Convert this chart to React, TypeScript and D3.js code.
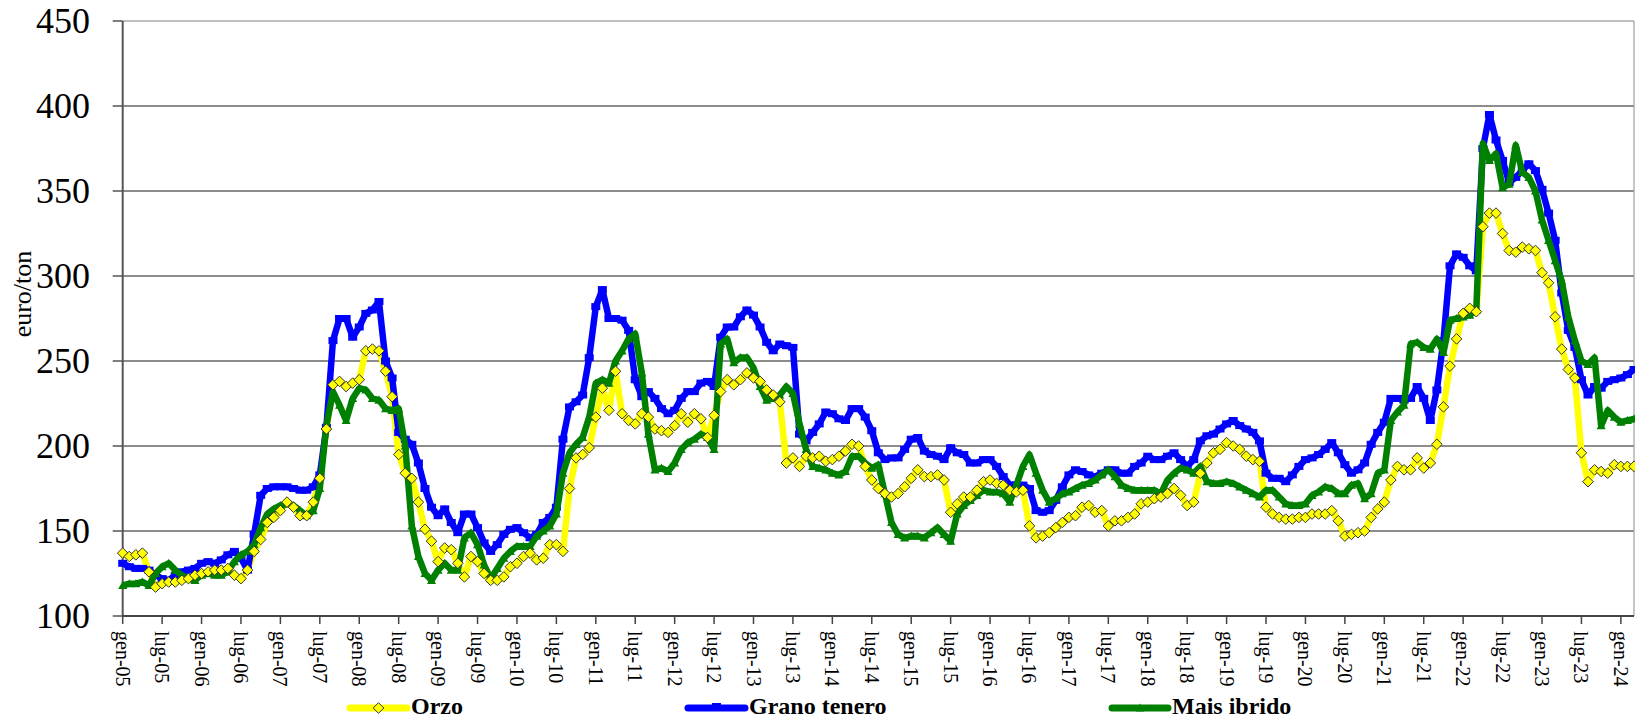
import React, { useEffect } from "react";
import * as d3 from "d3";

const width = 1635;
const height = 719;
const plotLeft = 122.7;
const plotRight = 1634;
const plotTop = 21;
const plotBottom = 616;

// etichette dell'asse x, ogni 6 mesi
const tickLabels = [
  "gen-05", "lug-05", "gen-06", "lug-06", "gen-07", "lug-07", "gen-08", "lug-08",
  "gen-09", "lug-09", "gen-10", "lug-10", "gen-11", "lug-11", "gen-12", "lug-12",
  "gen-13", "lug-13", "gen-14", "lug-14", "gen-15", "lug-15", "gen-16", "lug-16",
  "gen-17", "lug-17", "gen-18", "lug-18", "gen-19", "lug-19", "gen-20", "lug-20",
  "gen-21", "lug-21", "gen-22", "lug-22", "gen-23", "lug-23", "gen-24",
];

const yTicks = [100, 150, 200, 250, 300, 350, 400, 450];

// prezzi mensili, gen-05 .. mar-24 (euro/ton)
const orzo = [
  137, 135, 136, 137, 126, 117, 119, 120, 120, 121, 122, 124,
  125, 126, 127, 127, 128, 124, 122, 127, 138, 145, 155, 158,
  162, 167, 164, 159, 159, 167, 181, 210, 236, 238, 235, 237,
  239, 256, 257, 256, 244, 229, 195, 184, 181, 167, 151, 144,
  132, 140, 139, 131, 123, 135, 132, 125, 121, 121, 123, 129,
  131, 135, 137, 133, 134, 142, 142, 138, 175, 193, 195, 199,
  217, 234, 221, 244, 219, 215, 213, 219, 217, 210, 209, 208,
  212, 219, 214, 219, 216, 205, 218, 232, 239, 236, 239, 243,
  240, 238, 233, 230, 226, 190, 193, 188, 194, 193, 194, 191,
  192, 194, 197, 201, 200, 188, 180, 175, 172, 170, 172, 176,
  181, 186, 182, 182, 183, 180, 161, 166, 170, 170, 174, 179,
  180, 178, 177, 174, 173, 174, 153, 146, 147, 149, 152, 155,
  158, 159, 164, 165, 161, 162, 153, 156, 156, 158, 160, 166,
  167, 169, 170, 172, 175, 171, 165, 167, 184, 190, 196, 198,
  202, 200, 198, 194, 192, 191, 164, 160, 158, 157, 157, 158,
  158, 160, 160, 160, 162, 156, 147, 148, 149, 150, 158, 163,
  167, 180, 188, 186, 186, 193, 187, 190, 201, 223, 247, 263,
  278, 281, 279, 329, 337, 337, 325, 315, 314, 317, 316, 315,
  302, 296, 276, 257, 245, 240, 196, 179, 186, 185, 184, 189,
  188, 188, 188,
];

const granoTenero = [
  131, 129, 128, 128, 127, 124, 122, 121, 124, 126, 127, 128,
  131, 132, 131, 133, 136, 138, 134, 127, 148, 171, 175, 176,
  176, 176, 175, 174, 174, 176, 183, 211, 262, 275, 275, 264,
  270, 278, 280, 285, 250, 240, 208, 204, 201, 190, 175, 164,
  159, 163, 155, 149, 160, 160, 152, 143, 138, 142, 148, 151,
  152, 149, 146, 148, 155, 158, 164, 204, 223, 226, 230, 252,
  282, 292, 275, 275, 274, 268, 239, 229, 232, 228, 222, 219,
  221, 228, 232, 232, 237, 238, 235, 264, 270, 270, 276, 280,
  277, 270, 261, 256, 260, 259, 258, 207, 203, 208, 213, 220,
  219, 216, 215, 222, 222, 217, 209, 196, 192, 193, 193, 198,
  204, 205, 197, 195, 194, 192, 199, 196, 195, 190, 190, 192,
  192, 188, 182, 177, 177, 177, 175, 162, 161, 162, 168, 176,
  183, 186, 185, 183, 182, 184, 186, 186, 184, 184, 188, 190,
  194, 192, 192, 194, 196, 192, 188, 192, 203, 206, 207, 210,
  213, 215, 212, 210, 208, 203, 184, 181, 181, 179, 183, 188,
  192, 193, 195, 198, 202, 196, 189, 184, 186, 190, 201, 208,
  214, 228, 228, 227, 228, 235, 228, 215, 233, 262, 306, 313,
  311, 306, 303, 375, 395, 380, 368, 355, 358, 362, 366, 362,
  351, 337, 321, 290, 268, 258, 239, 230, 235, 234, 238, 239,
  240, 242, 245,
];

const maisIbrido = [
  118, 119, 119, 120, 118, 125, 129, 131, 127, 124, 122, 121,
  124, 125, 124, 124, 126, 132, 136, 138, 142, 152, 160, 163,
  165, 166, 165, 162, 159, 162, 175, 212, 232, 224, 215, 228,
  234, 233, 228, 227, 222, 221, 222, 200, 153, 135, 125, 121,
  127, 131, 127, 127, 146, 149, 142, 130, 122, 128, 134, 138,
  141, 141, 141, 147, 150, 153, 160, 184, 196, 201, 205, 217,
  237, 239, 237, 250, 256, 263, 266, 243, 207, 186, 187, 185,
  190, 198, 202, 204, 207, 205, 198, 260, 263, 249, 252, 252,
  246, 235, 227, 228, 230, 235, 231, 213, 198, 188, 187, 186,
  184, 183, 185, 194, 194, 190, 187, 189, 172, 155, 148, 146,
  147, 147, 146, 149, 152, 148, 144, 160, 165, 168, 171, 174,
  173, 173, 172, 167, 177, 188, 195, 184, 174, 167, 169, 172,
  173, 175, 177, 178, 180, 183, 186, 182, 177, 175, 174, 174,
  174, 174, 172, 180, 184, 187, 186, 184, 188, 179, 178, 178,
  179, 178, 176, 174, 172, 170, 174, 174, 170, 166, 165, 165,
  166, 171, 173, 176, 175, 172, 172, 177, 178, 169, 172, 184,
  186, 215, 220, 224, 260, 261, 258, 257, 263, 255, 274, 275,
  276, 277, 280, 378, 368, 372, 352, 354, 377, 361, 358, 350,
  333, 321, 309, 297, 276, 262, 250, 248, 252, 212, 221, 217,
  214, 215, 216,
];

const serif = "'Liberation Serif', 'Times New Roman', Times, serif";
const yellow = "#FFFF00";
const blue = "#0000FF";
const green = "#008000";

export default function App() {
  useEffect(() => {
    document.body.style.margin = "0";
    document.body.style.overflow = "hidden";
  }, []);

  const x = d3.scaleLinear().domain([0, orzo.length - 1]).range([plotLeft, plotRight]);
  const y = d3.scaleLinear().domain([100, 450]).range([plotBottom, plotTop]);

  const line = d3
    .line<number>()
    .x((_, i) => x(i))
    .y((d) => y(d));

  const diamond = (cx: number, cy: number, r: number) =>
    `M${cx},${cy - r}L${cx + r},${cy}L${cx},${cy + r}L${cx - r},${cy}Z`;
  const triangle = (cx: number, cy: number, r: number) =>
    `M${cx},${cy - r}L${cx + r},${cy + r * 0.8}L${cx - r},${cy + r * 0.8}Z`;

  const legendY = 708;
  const legend = [
    { name: "Orzo", x0: 350, x1: 407, color: yellow, marker: "diamond" },
    { name: "Grano tenero", x0: 688, x1: 745, color: blue, marker: "dash" },
    { name: "Mais ibrido", x0: 1112, x1: 1168, color: green, marker: "triangle" },
  ];

  const txt = { fontFamily: serif };

  return (
    <svg
      width={width}
      height={height}
      style={{ position: "absolute", left: 0, top: 0, background: "#fff" }}
    >
      {/* griglia */}
      {yTicks.slice(1).map((t) => (
        <line
          key={"g" + t}
          x1={plotLeft}
          x2={plotRight}
          y1={y(t)}
          y2={y(t)}
          stroke={t === 450 ? "#808080" : "#1a1a1a"}
          strokeWidth={1.2}
        />
      ))}
      <line x1={plotRight} x2={plotRight} y1={plotTop} y2={plotBottom} stroke="#a0a0a0" strokeWidth={1.2} />

      {/* asse y */}
      <line x1={plotLeft} x2={plotLeft} y1={plotTop} y2={plotBottom} stroke="#555" strokeWidth={2} />
      {yTicks.map((t) => (
        <g key={"y" + t}>
          <line x1={plotLeft - 10} x2={plotLeft} y1={y(t)} y2={y(t)} stroke="#555" strokeWidth={1.5} />
          <text x={90} y={y(t) + 12} textAnchor="end" fontSize={36} style={txt}>
            {t}
          </text>
        </g>
      ))}
      <text
        transform={`translate(31,294) rotate(-90)`}
        textAnchor="middle"
        fontSize={26}
        style={txt}
      >
        euro/ton
      </text>

      {/* asse x */}
      <line x1={plotLeft} x2={plotRight} y1={plotBottom} y2={plotBottom} stroke="#444" strokeWidth={2} />
      {tickLabels.map((lab, k) => {
        const tx = x(k * 6);
        return (
          <g key={lab}>
            <line x1={tx} x2={tx} y1={plotBottom} y2={plotBottom + 8} stroke="#444" strokeWidth={1.5} />
            <text
              transform={`translate(${tx},${plotBottom + 15}) rotate(90)`}
              dy="0.35em"
              fontSize={20}
              style={txt}
            >
              {lab}
            </text>
          </g>
        );
      })}

      {/* serie */}
      <path d={line(orzo) || ""} fill="none" stroke={yellow} strokeWidth={6.5} strokeLinejoin="round" />
      <path d={line(granoTenero) || ""} fill="none" stroke={blue} strokeWidth={6.5} strokeLinejoin="round" />
      {granoTenero.map((d, i) => (
        <rect key={"b" + i} x={x(i) - 4.5} y={y(d) - 3.5} width={9} height={7} fill={blue} />
      ))}
      <path d={line(maisIbrido) || ""} fill="none" stroke={green} strokeWidth={6.5} strokeLinejoin="round" />
      {maisIbrido.map((d, i) => (
        <path key={"t" + i} d={triangle(x(i), y(d), 4.5)} fill={green} />
      ))}
      {orzo.map((d, i) => (
        <path
          key={"d" + i}
          d={diamond(x(i), y(d), 5.3)}
          fill={yellow}
          stroke="#333"
          strokeWidth={1}
        />
      ))}

      {/* legenda */}
      {legend.map((l) => {
        const mx = (l.x0 + l.x1) / 2;
        return (
          <g key={l.name}>
            <line
              x1={l.x0}
              x2={l.x1}
              y1={legendY}
              y2={legendY}
              stroke={l.color}
              strokeWidth={7}
              strokeLinecap="round"
            />
            {l.marker === "diamond" && (
              <path d={diamond(mx, legendY, 5.3)} fill={yellow} stroke="#333" strokeWidth={1} />
            )}
            {l.marker === "dash" && (
              <rect x={mx - 4.5} y={legendY - 5} width={9} height={7} fill={blue} />
            )}
            {l.marker === "triangle" && (
              <path d={triangle(mx, legendY, 4.5)} fill={green} />
            )}
            <text x={l.x1 + 4} y={legendY + 6} fontSize={24} fontWeight="bold" style={txt}>
              {l.name}
            </text>
          </g>
        );
      })}
    </svg>
  );
}
